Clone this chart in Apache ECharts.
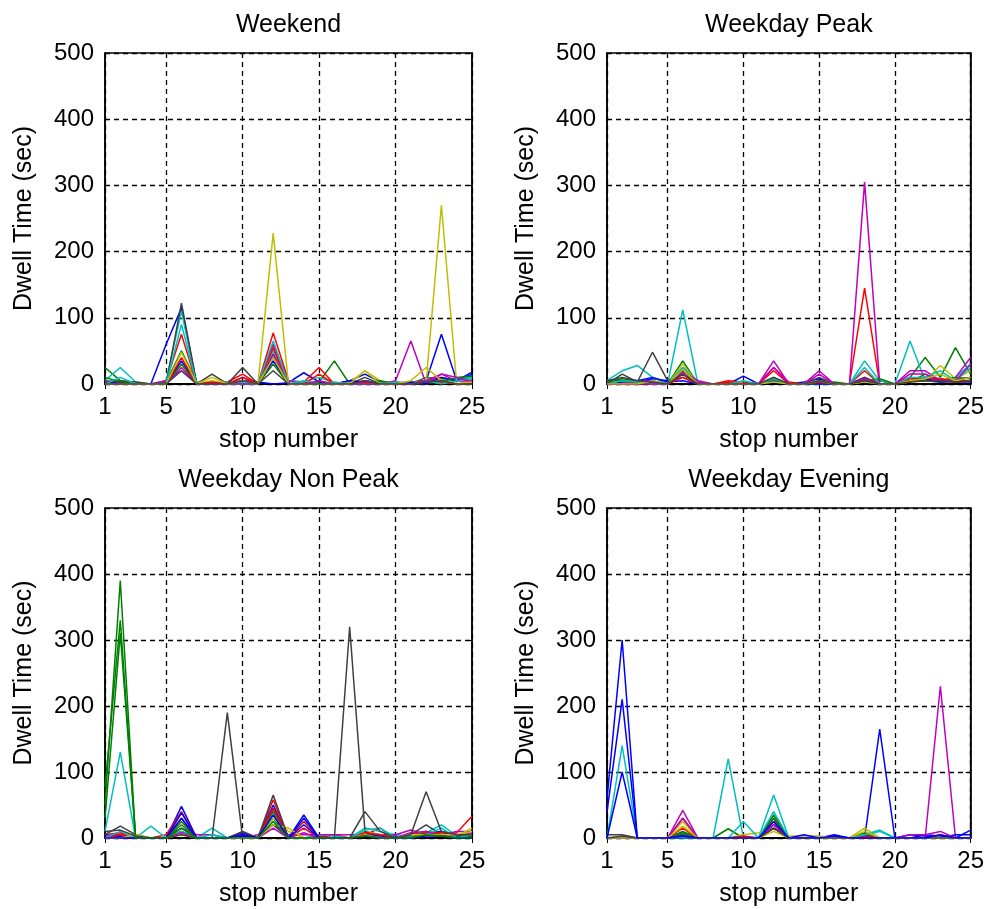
<!DOCTYPE html>
<html>
<head>
<meta charset="utf-8">
<title>Dwell Time</title>
<script src="https://cdn.jsdelivr.net/npm/echarts@6.0.0/dist/echarts.min.js"></script>
<style>
html,body{margin:0;padding:0;background:#fff;}
#main{width:987px;height:909px;}
</style>
</head>
<body>
<div id="main"></div>
<script>
//stop numbers and axis ticks
var stops = [1,2,3,4,5,6,7,8,9,10,11,12,13,14,15,16,17,18,19,20,21,22,23,24,25];
var xTicks = [1,5,10,15,20,25];
var yTicks = [0,100,200,300,400,500];
var panelTitles = ['Weekend','Weekday Peak','Weekday Non Peak','Weekday Evening'];
//matlab line colour order: b g r c m y k
var lineColors = ['#0000ff','#008000','#ff0000','#00bfbf','#bf00bf','#bfbf00','#404040'];

//dwell time (sec) per stop, one row per trip
var weekend = [
  [3,2,0,0,60, 115,0,0,2,5, 3,0,2,17,3, 0,5,15,3,2, 3,5,75,5,15],
  [25,5,0,0,3, 50,3,0,0,0, 0,45,0,0,3, 35,0,5,0,3, 0,10,8,5,10],
  [0,0,0,0,5, 75,0,0,3,15, 0,77,5,3,25, 0,0,5,0,0, 3,5,10,5,5],
  [5,25,3,0,5, 110,0,0,3,2, 0,50,5,3,10, 2,0,5,2,0, 3,3,5,8,10],
  [5,3,0,0,5, 20,0,0,0,0, 0,60,5,0,0, 0,0,5,0,5, 65,0,15,5,5],
  [0,0,0,0,0, 30,0,5,0,0, 0,228,0,0,0, 0,3,20,5,0, 0,3,270,0,0],
  [3,5,3,0,0, 122,0,15,0,25, 0,40,0,0,0, 0,0,10,0,0, 0,0,5,0,0],
  [0,0,0,0,0, 35,0,0,0,10, 0,35,0,0,0, 0,5,3,0,0, 3,0,10,5,18],
  [10,3,0,0,0, 30,0,0,0,0, 0,30,0,0,0, 0,0,0,5,0, 0,5,3,10,12],
  [0,0,0,0,0, 40,0,3,0,10, 0,55,0,0,15, 0,0,3,0,0, 0,3,3,0,3],
  [0,10,0,0,0, 90,0,0,0,0, 0,65,0,5,0, 3,0,0,0,3, 0,5,0,5,8],
  [0,0,0,0,0, 25,0,0,0,0, 0,45,0,0,5, 0,0,0,0,0, 0,5,15,10,3],
  [0,0,0,0,0, 48,0,10,0,5, 0,40,0,0,0, 0,0,20,0,0, 5,25,5,0,3],
  [0,0,0,0,0, 20,0,0,0,5, 0,20,0,0,0, 0,0,5,0,0, 0,3,5,0,0]
];
var weekdayPeak = [
  [0,0,3,8,5, 15,0,0,0,12, 0,5,0,3,8, 0,0,10,0,0, 5,10,8,3,3],
  [3,8,5,3,0, 35,0,0,0,0, 0,10,0,0,0, 3,0,5,5,0, 10,40,10,55,15],
  [0,0,3,0,0, 15,0,0,5,3, 0,25,3,0,5, 0,0,145,0,0, 5,10,5,8,10],
  [5,20,28,10,0, 112,0,0,0,0, 0,5,0,0,0, 0,0,35,5,0, 65,5,3,10,30],
  [3,0,5,5,0, 25,3,0,0,0, 0,35,0,0,20, 0,0,305,0,0, 20,20,5,10,40],
  [0,3,5,0,0, 30,0,0,0,0, 0,5,0,0,3, 0,0,10,0,0, 3,5,28,8,20],
  [0,15,3,48,5, 10,0,0,0,0, 0,5,0,0,10, 0,0,10,0,0, 5,5,3,3,5],
  [0,3,5,10,3, 5,0,0,0,0, 0,3,0,0,0, 0,0,8,0,0, 10,8,3,5,10],
  [5,5,3,3,0, 20,0,0,0,0, 0,8,0,0,3, 0,0,5,8,0, 3,15,5,10,8],
  [0,0,0,0,0, 10,0,0,3,0, 0,20,0,0,3, 0,0,20,0,0, 8,10,8,5,5],
  [0,5,3,0,0, 25,0,0,0,5, 0,8,0,0,5, 0,0,25,0,0, 10,10,20,5,25],
  [0,0,0,0,0, 18,5,0,0,0, 0,25,0,0,15, 0,0,8,0,0, 15,15,5,5,30],
  [0,0,0,5,0, 22,0,0,0,0, 0,3,0,0,5, 0,0,3,0,0, 5,8,15,5,10],
  [5,10,5,3,0, 15,0,0,0,0, 0,10,0,0,5, 0,0,5,0,0, 3,5,5,3,5]
];
var weekdayNonPeak = [
  [3,5,0,0,0, 48,0,0,0,8, 0,50,0,35,0, 0,0,10,5,3, 0,8,10,5,5],
  [50,390,0,0,0, 25,0,0,0,0, 0,30,0,0,3, 0,0,10,0,0, 3,5,3,5,5],
  [5,8,0,0,5, 40,0,0,0,5, 0,58,0,25,0, 5,0,5,15,0, 5,10,5,8,33],
  [10,130,0,18,0, 15,0,15,0,0, 0,45,0,0,5, 3,0,15,10,5, 3,8,20,3,5],
  [5,5,0,0,0, 15,5,5,0,0, 5,20,5,5,5, 5,5,5,5,5, 12,5,5,10,10],
  [0,0,5,0,0, 10,0,0,0,3, 0,30,10,0,0, 0,0,10,5,0, 8,10,5,3,15],
  [5,18,5,0,0, 10,0,0,190,0, 0,20,0,0,0, 0,320,10,0,0, 5,20,5,3,3],
  [0,3,0,0,0, 38,0,0,0,3, 0,45,0,30,0, 0,0,5,3,0, 0,5,5,3,3],
  [77,330,0,0,0, 20,0,0,0,0, 0,40,0,0,0, 0,0,5,0,0, 0,10,5,3,3],
  [0,5,0,0,0, 30,0,0,0,0, 0,45,0,15,0, 0,0,8,5,0, 0,8,8,5,5],
  [0,10,0,0,0, 10,0,5,0,0, 0,35,0,0,0, 0,0,12,15,0, 0,5,15,0,5],
  [0,0,0,0,0, 8,0,0,0,0, 0,15,0,8,0, 0,0,5,0,0, 8,10,3,5,8],
  [0,0,5,0,0, 5,0,0,0,0, 0,20,15,0,0, 0,0,5,0,0, 5,5,5,5,10],
  [10,12,3,0,0, 5,0,0,0,10, 0,65,0,0,0, 0,0,40,10,0, 5,70,10,5,5],
  [0,0,0,0,0, 30,0,0,0,5, 0,35,0,20,0, 0,0,3,0,0, 0,3,3,0,0],
  [30,310,0,0,0, 15,0,0,0,0, 0,25,0,0,0, 0,0,3,0,0, 0,5,3,0,0]
];
var weekdayEvening = [
  [60,300,0,0,0, 0,0,0,0,0, 0,15,0,0,0, 5,0,0,165,0, 0,5,3,0,12],
  [0,0,0,0,0, 10,0,0,14,0, 0,35,0,0,0, 0,0,5,0,0, 0,0,0,0,0],
  [0,0,0,0,0, 30,0,0,0,0, 0,25,0,0,0, 0,0,0,0,0, 0,0,5,0,0],
  [0,140,0,0,0, 0,0,0,120,0, 0,65,0,0,0, 0,0,5,12,0, 0,0,0,0,0],
  [0,0,0,0,0, 42,0,0,0,0, 0,30,0,0,0, 0,0,0,0,0, 0,0,230,0,0],
  [0,0,0,0,0, 25,0,0,0,5, 8,15,3,3,3, 0,0,15,0,0, 0,0,0,0,0],
  [5,5,0,0,0, 3,0,0,0,0, 0,20,0,0,0, 0,0,0,0,0, 0,0,0,0,0],
  [40,210,0,0,0, 5,0,0,0,0, 0,20,0,5,0, 0,0,3,0,0, 5,3,0,5,5],
  [0,0,0,0,0, 8,0,0,0,0, 0,30,0,0,0, 0,0,8,0,0, 0,0,0,0,0],
  [0,0,0,0,0, 15,0,0,0,3, 0,15,0,0,0, 0,0,3,0,0, 0,0,0,0,0],
  [0,0,0,0,0, 5,0,0,0,25, 0,40,0,0,0, 0,0,5,10,0, 0,0,0,0,0],
  [0,0,0,0,0, 30,0,0,0,0, 0,20,0,0,0, 0,0,0,0,0, 5,5,10,0,0],
  [0,0,0,0,0, 18,0,0,0,0, 0,10,0,0,0, 0,0,10,0,0, 0,0,0,0,0],
  [0,3,0,0,0, 5,0,0,0,0, 0,15,0,0,0, 0,0,0,0,0, 0,0,0,0,0],
  [0,100,0,0,0, 3,0,0,0,0, 0,25,0,0,0, 3,0,0,0,0, 0,0,5,0,0]
];

var panelData = [weekend, weekdayPeak, weekdayNonPeak, weekdayEvening];
var gridPos = [
  {left:105, top:53, width:367, height:331},
  {left:607, top:53, width:366, height:331},
  {left:105, top:508, width:367, height:330},
  {left:607, top:508, width:366, height:330}
];

var fontFam = '"Liberation Sans", Arial, sans-serif';
var myChart = echarts.init(document.getElementById('main'));

var grids = [], xAxes = [], yAxes = [], series = [];
for (var p = 0; p < 4; p++) {
  grids.push({left:gridPos[p].left, top:gridPos[p].top, width:gridPos[p].width, height:gridPos[p].height,
              show:true, borderColor:'#000', borderWidth:1.5, backgroundColor:'#fff'});
  var tick = {show:true, inside:true, length:5, lineStyle:{color:'#000', width:1}};
  //bottom x axis with grid
  xAxes.push({
    gridIndex:p, type:'value', position:'bottom', min:xTicks[0], max:xTicks[xTicks.length-1],
    name:'stop number', nameLocation:'middle', nameGap:44,
    nameTextStyle:{color:'#000', fontSize:25, fontFamily:fontFam},
    axisLine:{show:true, lineStyle:{color:'#000', width:1.5}},
    axisTick:{show:true, inside:true, length:5, customValues:xTicks, lineStyle:{color:'#000'}},
    axisLabel:{show:true, customValues:xTicks, margin:11, color:'#000', fontSize:24, fontFamily:fontFam},
    splitLine:{show:true, lineStyle:{color:'#000', width:1.3, type:[5,4]}}
  });
  //top x axis, carries the panel title
  xAxes.push({
    gridIndex:p, type:'value', position:'top', min:xTicks[0], max:xTicks[xTicks.length-1],
    name:panelTitles[p], nameLocation:'middle', nameGap:15,
    nameTextStyle:{color:'#000', fontSize:25, fontFamily:fontFam},
    axisLine:{show:true, lineStyle:{color:'#000', width:1.5}},
    axisTick:{show:true, inside:true, length:5, customValues:xTicks, lineStyle:{color:'#000'}},
    axisLabel:{show:false},
    splitLine:{show:false}
  });
  yAxes.push({
    gridIndex:p, type:'value', position:'left', min:yTicks[0], max:yTicks[yTicks.length-1], interval:yTicks[1]-yTicks[0],
    name:'Dwell Time (sec)', nameLocation:'middle', nameGap:68,
    nameTextStyle:{color:'#000', fontSize:25, fontFamily:fontFam},
    axisLine:{show:true, lineStyle:{color:'#000', width:1.5}},
    axisTick:tick,
    axisLabel:{show:true, margin:11, color:'#000', fontSize:24, fontFamily:fontFam},
    splitLine:{show:true, lineStyle:{color:'#000', width:1.3, type:[5,4]}}
  });
  yAxes.push({
    gridIndex:p, type:'value', position:'right', min:yTicks[0], max:yTicks[yTicks.length-1], interval:yTicks[1]-yTicks[0],
    axisLine:{show:true, lineStyle:{color:'#000', width:1.5}},
    axisTick:tick,
    axisLabel:{show:false},
    splitLine:{show:false}
  });

  var rows = panelData[p];
  for (var i = 0; i < rows.length; i++) {
    var pts = [];
    for (var k = 0; k < stops.length; k++) {
      pts.push([stops[k], rows[i][k]]);
    }
    var c = lineColors[i % lineColors.length];
    series.push({
      type:'line', xAxisIndex:p*2, yAxisIndex:p*2, data:pts,
      symbol:'none', showSymbol:false, silent:true,
      lineStyle:{color:c, width:1.5}, itemStyle:{color:c}
    });
  }
}

var option = {
  backgroundColor:'#fff',
  animation:false,
  grid:grids,
  xAxis:xAxes,
  yAxis:yAxes,
  series:series
};
myChart.setOption(option);
</script>
</body>
</html>
